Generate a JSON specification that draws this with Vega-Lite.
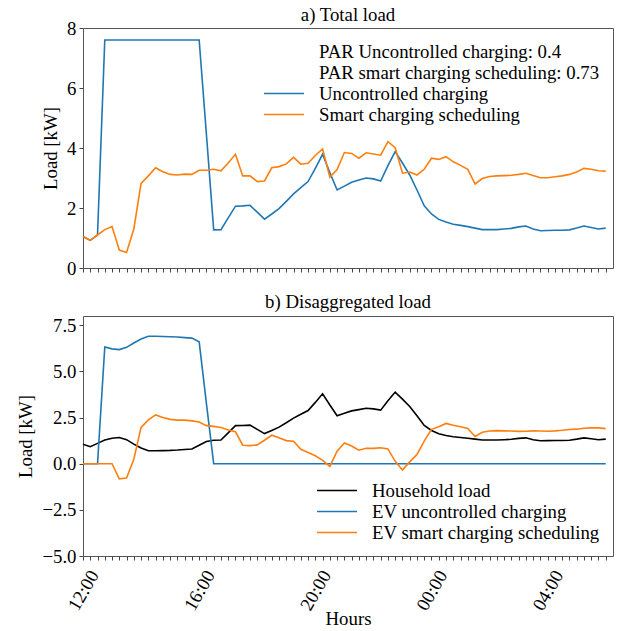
{
  "$schema": "https://vega.github.io/schema/vega-lite/v6.json",
  "background": "white",
  "padding": {"left": 16, "top": 5, "right": 6, "bottom": 3},
  "config": {
    "font": "Times New Roman, Liberation Serif, DejaVu Serif, serif",
    "view": {"stroke": "#555", "strokeWidth": 1},
    "axis": {
      "grid": false,
      "domain": false,
      "tickColor": "#444",
      "tickSize": 4,
      "labelFont": "Times New Roman, Liberation Serif, DejaVu Serif, serif",
      "titleFont": "Times New Roman, Liberation Serif, DejaVu Serif, serif",
      "labelFontSize": 18.8,
      "titleFontSize": 18.8,
      "titleFontWeight": "normal",
      "labelColor": "#000",
      "titleColor": "#000"
    },
    "legend": {
      "symbolType": "stroke",
      "symbolSize": 1600,
      "symbolStrokeWidth": 1.6,
      "labelFont": "Times New Roman, Liberation Serif, DejaVu Serif, serif",
      "labelFontSize": 18.8,
      "labelColor": "#000",
      "labelLimit": 500,
      "labelOffset": 14,
      "clipHeight": 21,
      "rowPadding": 0,
      "padding": 0,
      "offset": 13
    },
    "title": {"font": "Times New Roman, Liberation Serif, DejaVu Serif, serif", "fontSize": 18.8, "fontWeight": "normal", "color": "#000", "offset": 4, "frame": "group"},
    "line": {"strokeWidth": 1.6}
  },
  "data": {
    "values": [
      {"h": 0, "house": 1.05, "ev_unc": 0, "ev_smart": 0, "tot_unc": 1.05, "tot_smart": 1.05},
      {"h": 0.25, "house": 0.92, "ev_unc": 0, "ev_smart": 0, "tot_unc": 0.92, "tot_smart": 0.92},
      {"h": 0.5, "house": 1.10, "ev_unc": 0, "ev_smart": 0, "tot_unc": 1.10, "tot_smart": 1.10},
      {"h": 0.75, "house": 1.28, "ev_unc": 6.32, "ev_smart": 0, "tot_unc": 7.60, "tot_smart": 1.28},
      {"h": 1, "house": 1.38, "ev_unc": 6.22, "ev_smart": 0, "tot_unc": 7.60, "tot_smart": 1.38},
      {"h": 1.25, "house": 1.42, "ev_unc": 6.18, "ev_smart": -0.82, "tot_unc": 7.60, "tot_smart": 0.60},
      {"h": 1.5, "house": 1.30, "ev_unc": 6.30, "ev_smart": -0.78, "tot_unc": 7.60, "tot_smart": 0.52},
      {"h": 1.75, "house": 1.06, "ev_unc": 6.54, "ev_smart": 0.24, "tot_unc": 7.60, "tot_smart": 1.30},
      {"h": 2, "house": 0.85, "ev_unc": 6.75, "ev_smart": 1.97, "tot_unc": 7.60, "tot_smart": 2.82},
      {"h": 2.25, "house": 0.70, "ev_unc": 6.90, "ev_smart": 2.37, "tot_unc": 7.60, "tot_smart": 3.07},
      {"h": 2.5, "house": 0.70, "ev_unc": 6.90, "ev_smart": 2.64, "tot_unc": 7.60, "tot_smart": 3.34},
      {"h": 2.75, "house": 0.71, "ev_unc": 6.89, "ev_smart": 2.50, "tot_unc": 7.60, "tot_smart": 3.21},
      {"h": 3, "house": 0.72, "ev_unc": 6.88, "ev_smart": 2.40, "tot_unc": 7.60, "tot_smart": 3.12},
      {"h": 3.25, "house": 0.74, "ev_unc": 6.86, "ev_smart": 2.36, "tot_unc": 7.60, "tot_smart": 3.10},
      {"h": 3.5, "house": 0.77, "ev_unc": 6.83, "ev_smart": 2.36, "tot_unc": 7.60, "tot_smart": 3.13},
      {"h": 3.75, "house": 0.80, "ev_unc": 6.80, "ev_smart": 2.32, "tot_unc": 7.60, "tot_smart": 3.12},
      {"h": 4, "house": 1.00, "ev_unc": 6.60, "ev_smart": 2.26, "tot_unc": 7.60, "tot_smart": 3.26},
      {"h": 4.25, "house": 1.20, "ev_unc": 3.25, "ev_smart": 2.06, "tot_unc": 4.45, "tot_smart": 3.26},
      {"h": 4.5, "house": 1.27, "ev_unc": 0, "ev_smart": 2.02, "tot_unc": 1.27, "tot_smart": 3.29},
      {"h": 4.75, "house": 1.28, "ev_unc": 0, "ev_smart": 1.96, "tot_unc": 1.28, "tot_smart": 3.24},
      {"h": 5, "house": 1.67, "ev_unc": 0, "ev_smart": 1.83, "tot_unc": 1.67, "tot_smart": 3.50},
      {"h": 5.25, "house": 2.06, "ev_unc": 0, "ev_smart": 1.73, "tot_unc": 2.06, "tot_smart": 3.79},
      {"h": 5.5, "house": 2.07, "ev_unc": 0, "ev_smart": 1.00, "tot_unc": 2.07, "tot_smart": 3.07},
      {"h": 5.75, "house": 2.09, "ev_unc": 0, "ev_smart": 0.98, "tot_unc": 2.09, "tot_smart": 3.07},
      {"h": 6, "house": 1.86, "ev_unc": 0, "ev_smart": 1.02, "tot_unc": 1.86, "tot_smart": 2.88},
      {"h": 6.25, "house": 1.63, "ev_unc": 0, "ev_smart": 1.27, "tot_unc": 1.63, "tot_smart": 2.90},
      {"h": 6.5, "house": 1.80, "ev_unc": 0, "ev_smart": 1.54, "tot_unc": 1.80, "tot_smart": 3.34},
      {"h": 6.75, "house": 1.98, "ev_unc": 0, "ev_smart": 1.40, "tot_unc": 1.98, "tot_smart": 3.38},
      {"h": 7, "house": 2.22, "ev_unc": 0, "ev_smart": 1.25, "tot_unc": 2.22, "tot_smart": 3.47},
      {"h": 7.25, "house": 2.47, "ev_unc": 0, "ev_smart": 1.22, "tot_unc": 2.47, "tot_smart": 3.69},
      {"h": 7.5, "house": 2.68, "ev_unc": 0, "ev_smart": 0.78, "tot_unc": 2.68, "tot_smart": 3.46},
      {"h": 7.75, "house": 2.88, "ev_unc": 0, "ev_smart": 0.61, "tot_unc": 2.88, "tot_smart": 3.49},
      {"h": 8, "house": 3.32, "ev_unc": 0, "ev_smart": 0.43, "tot_unc": 3.32, "tot_smart": 3.75},
      {"h": 8.25, "house": 3.79, "ev_unc": 0, "ev_smart": 0.18, "tot_unc": 3.79, "tot_smart": 3.97},
      {"h": 8.5, "house": 3.18, "ev_unc": 0, "ev_smart": -0.15, "tot_unc": 3.18, "tot_smart": 3.03},
      {"h": 8.75, "house": 2.60, "ev_unc": 0, "ev_smart": 0.68, "tot_unc": 2.60, "tot_smart": 3.28},
      {"h": 9, "house": 2.73, "ev_unc": 0, "ev_smart": 1.12, "tot_unc": 2.73, "tot_smart": 3.85},
      {"h": 9.25, "house": 2.86, "ev_unc": 0, "ev_smart": 0.96, "tot_unc": 2.86, "tot_smart": 3.82},
      {"h": 9.5, "house": 2.93, "ev_unc": 0, "ev_smart": 0.73, "tot_unc": 2.93, "tot_smart": 3.66},
      {"h": 9.75, "house": 3.00, "ev_unc": 0, "ev_smart": 0.84, "tot_unc": 3.00, "tot_smart": 3.84},
      {"h": 10, "house": 2.97, "ev_unc": 0, "ev_smart": 0.83, "tot_unc": 2.97, "tot_smart": 3.80},
      {"h": 10.25, "house": 2.90, "ev_unc": 0, "ev_smart": 0.86, "tot_unc": 2.90, "tot_smart": 3.76},
      {"h": 10.5, "house": 3.41, "ev_unc": 0, "ev_smart": 0.80, "tot_unc": 3.41, "tot_smart": 4.21},
      {"h": 10.75, "house": 3.88, "ev_unc": 0, "ev_smart": 0.13, "tot_unc": 3.88, "tot_smart": 4.01},
      {"h": 11, "house": 3.50, "ev_unc": 0, "ev_smart": -0.34, "tot_unc": 3.50, "tot_smart": 3.16},
      {"h": 11.25, "house": 3.10, "ev_unc": 0, "ev_smart": 0.10, "tot_unc": 3.10, "tot_smart": 3.20},
      {"h": 11.5, "house": 2.60, "ev_unc": 0, "ev_smart": 0.50, "tot_unc": 2.60, "tot_smart": 3.10},
      {"h": 11.75, "house": 2.07, "ev_unc": 0, "ev_smart": 1.22, "tot_unc": 2.07, "tot_smart": 3.29},
      {"h": 12, "house": 1.80, "ev_unc": 0, "ev_smart": 1.86, "tot_unc": 1.80, "tot_smart": 3.66},
      {"h": 12.25, "house": 1.62, "ev_unc": 0, "ev_smart": 2.00, "tot_unc": 1.62, "tot_smart": 3.62},
      {"h": 12.5, "house": 1.53, "ev_unc": 0, "ev_smart": 2.18, "tot_unc": 1.53, "tot_smart": 3.71},
      {"h": 12.75, "house": 1.46, "ev_unc": 0, "ev_smart": 2.08, "tot_unc": 1.46, "tot_smart": 3.54},
      {"h": 13, "house": 1.42, "ev_unc": 0, "ev_smart": 2.00, "tot_unc": 1.42, "tot_smart": 3.42},
      {"h": 13.25, "house": 1.38, "ev_unc": 0, "ev_smart": 1.91, "tot_unc": 1.38, "tot_smart": 3.29},
      {"h": 13.5, "house": 1.33, "ev_unc": 0, "ev_smart": 1.47, "tot_unc": 1.33, "tot_smart": 2.80},
      {"h": 13.75, "house": 1.28, "ev_unc": 0, "ev_smart": 1.70, "tot_unc": 1.28, "tot_smart": 2.98},
      {"h": 14, "house": 1.28, "ev_unc": 0, "ev_smart": 1.77, "tot_unc": 1.28, "tot_smart": 3.05},
      {"h": 14.25, "house": 1.28, "ev_unc": 0, "ev_smart": 1.79, "tot_unc": 1.28, "tot_smart": 3.07},
      {"h": 14.5, "house": 1.30, "ev_unc": 0, "ev_smart": 1.78, "tot_unc": 1.30, "tot_smart": 3.08},
      {"h": 14.75, "house": 1.32, "ev_unc": 0, "ev_smart": 1.77, "tot_unc": 1.32, "tot_smart": 3.09},
      {"h": 15, "house": 1.37, "ev_unc": 0, "ev_smart": 1.75, "tot_unc": 1.37, "tot_smart": 3.12},
      {"h": 15.25, "house": 1.40, "ev_unc": 0, "ev_smart": 1.76, "tot_unc": 1.40, "tot_smart": 3.16},
      {"h": 15.5, "house": 1.30, "ev_unc": 0, "ev_smart": 1.78, "tot_unc": 1.30, "tot_smart": 3.08},
      {"h": 15.75, "house": 1.24, "ev_unc": 0, "ev_smart": 1.77, "tot_unc": 1.24, "tot_smart": 3.01},
      {"h": 16, "house": 1.25, "ev_unc": 0, "ev_smart": 1.76, "tot_unc": 1.25, "tot_smart": 3.01},
      {"h": 16.25, "house": 1.26, "ev_unc": 0, "ev_smart": 1.78, "tot_unc": 1.26, "tot_smart": 3.04},
      {"h": 16.5, "house": 1.26, "ev_unc": 0, "ev_smart": 1.81, "tot_unc": 1.26, "tot_smart": 3.07},
      {"h": 16.75, "house": 1.27, "ev_unc": 0, "ev_smart": 1.85, "tot_unc": 1.27, "tot_smart": 3.12},
      {"h": 17, "house": 1.33, "ev_unc": 0, "ev_smart": 1.87, "tot_unc": 1.33, "tot_smart": 3.20},
      {"h": 17.25, "house": 1.40, "ev_unc": 0, "ev_smart": 1.92, "tot_unc": 1.40, "tot_smart": 3.32},
      {"h": 17.5, "house": 1.35, "ev_unc": 0, "ev_smart": 1.94, "tot_unc": 1.35, "tot_smart": 3.29},
      {"h": 17.75, "house": 1.30, "ev_unc": 0, "ev_smart": 1.94, "tot_unc": 1.30, "tot_smart": 3.24},
      {"h": 18, "house": 1.33, "ev_unc": 0, "ev_smart": 1.90, "tot_unc": 1.33, "tot_smart": 3.23}
    ]
  },
  "spacing": 13,
  "resolve": {"scale": {"color": "independent"}, "legend": {"color": "independent"}},
  "vconcat": [
    {
      "title": {"text": "a) Total load", "offset": -5.4},
      "width": 530,
      "height": 240,
      "transform": [{"fold": ["tot_unc", "tot_smart"], "as": ["series", "kw"]}],
      "mark": {"type": "line"},
      "encoding": {
        "x": {
          "field": "h",
          "type": "quantitative",
          "scale": {"domain": [0, 18.25], "nice": false, "zero": false},
          "axis": {
            "title": null,
            "labels": false,
            "values": [0, 0.25, 0.5, 0.75, 1, 1.25, 1.5, 1.75, 2, 2.25, 2.5, 2.75, 3, 3.25, 3.5, 3.75, 4, 4.25, 4.5, 4.75, 5, 5.25, 5.5, 5.75, 6, 6.25, 6.5, 6.75, 7, 7.25, 7.5, 7.75, 8, 8.25, 8.5, 8.75, 9, 9.25, 9.5, 9.75, 10, 10.25, 10.5, 10.75, 11, 11.25, 11.5, 11.75, 12, 12.25, 12.5, 12.75, 13, 13.25, 13.5, 13.75, 14, 14.25, 14.5, 14.75, 15, 15.25, 15.5, 15.75, 16, 16.25, 16.5, 16.75, 17, 17.25, 17.5, 17.75, 18]
          }
        },
        "y": {
          "field": "kw",
          "type": "quantitative",
          "scale": {"domain": [0, 8], "nice": false},
          "axis": {
            "title": "Load [kW]",
            "values": [0, 2, 4, 6, 8],
            "format": "d",
            "labelPadding": 3,
            "titlePadding": 6,
            "labelFont": "Times New Roman, Liberation Serif, DejaVu Serif, serif",
            "titleFont": "Times New Roman, Liberation Serif, DejaVu Serif, serif"
          }
        },
        "color": {
          "field": "series",
          "type": "nominal",
          "scale": {
            "domain": ["par_unc", "par_smart", "tot_unc", "tot_smart"],
            "range": ["transparent", "transparent", "#1f77b4", "#ff7f0e"]
          },
          "legend": {
            "title": null,
            "orient": "top-right",
            "labelExpr": "datum.value == 'par_unc' ? 'PAR Uncontrolled charging: 0.4' : datum.value == 'par_smart' ? 'PAR smart charging scheduling: 0.73' : datum.value == 'tot_unc' ? 'Uncontrolled charging' : 'Smart charging scheduling'"
          }
        }
      }
    },
    {
      "title": {"text": "b) Disaggregated load", "offset": 4},
      "width": 530,
      "height": 240,
      "transform": [{"fold": ["house", "ev_unc", "ev_smart"], "as": ["series", "kw"]}],
      "mark": {"type": "line"},
      "encoding": {
        "x": {
          "field": "h",
          "type": "quantitative",
          "scale": {"domain": [0, 18.25], "nice": false, "zero": false},
          "axis": {
            "title": "Hours",
            "values": [0, 0.25, 0.5, 0.75, 1, 1.25, 1.5, 1.75, 2, 2.25, 2.5, 2.75, 3, 3.25, 3.5, 3.75, 4, 4.25, 4.5, 4.75, 5, 5.25, 5.5, 5.75, 6, 6.25, 6.5, 6.75, 7, 7.25, 7.5, 7.75, 8, 8.25, 8.5, 8.75, 9, 9.25, 9.5, 9.75, 10, 10.25, 10.5, 10.75, 11, 11.25, 11.5, 11.75, 12, 12.25, 12.5, 12.75, 13, 13.25, 13.5, 13.75, 14, 14.25, 14.5, 14.75, 15, 15.25, 15.5, 15.75, 16, 16.25, 16.5, 16.75, 17, 17.25, 17.5, 17.75, 18],
            "labelExpr": "datum.value % 4 == 0 ? pad(toString((12 + datum.value) % 24), 2, '0', 'left') + ':00' : ''",
            "labelAngle": -60,
            "labelAlign": "center",
            "labelBaseline": "middle",
            "labelPadding": 30,
            "labelOverlap": false,
            "labelFlush": false,
            "titlePadding": -4,
            "labelFont": "Times New Roman, Liberation Serif, DejaVu Serif, serif",
            "titleFont": "Times New Roman, Liberation Serif, DejaVu Serif, serif"
          }
        },
        "y": {
          "field": "kw",
          "type": "quantitative",
          "scale": {"domain": [-5, 8], "nice": false},
          "axis": {
            "title": "Load [kW]",
            "values": [-5, -2.5, 0, 2.5, 5, 7.5],
            "format": ".1f",
            "labelPadding": 3,
            "titlePadding": 6,
            "labelFont": "Times New Roman, Liberation Serif, DejaVu Serif, serif",
            "titleFont": "Times New Roman, Liberation Serif, DejaVu Serif, serif"
          }
        },
        "color": {
          "field": "series",
          "type": "nominal",
          "scale": {
            "domain": ["house", "ev_unc", "ev_smart"],
            "range": ["#000000", "#1f77b4", "#ff7f0e"]
          },
          "legend": {
            "title": null,
            "orient": "bottom-right",
            "labelExpr": "datum.value == 'house' ? 'Household load' : datum.value == 'ev_unc' ? 'EV uncontrolled charging' : 'EV smart charging scheduling'"
          }
        }
      }
    }
  ]
}
